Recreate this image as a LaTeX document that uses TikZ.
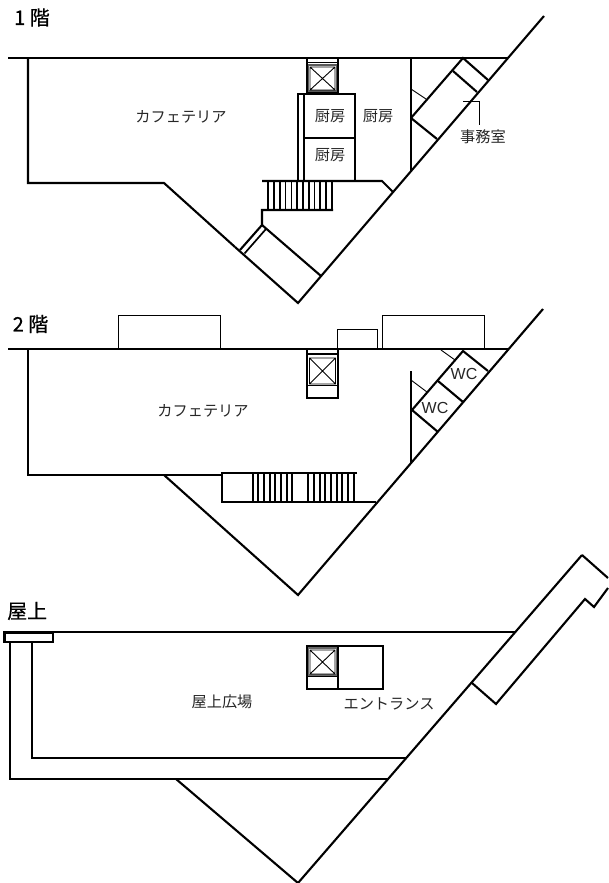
\documentclass[tikz,border=0pt]{standalone}
\usepackage{fontspec}
\setmainfont{Noto Sans CJK JP}
\newfontfamily\latinfont{Liberation Sans}
\newfontfamily\headfont[FakeBold=0.4]{Noto Sans CJK JP}
\tikzset{
  wall/.style={line width=2.1pt,line join=miter,line cap=butt},
  midw/.style={line width=1.7pt},
  thin/.style={line width=0.9pt},
  lab/.style={font=\fontsize{15.2}{16}\selectfont,inner sep=0pt,text=black!85},
  head/.style={font=\headfont\fontsize{20}{22}\selectfont,inner sep=0pt,anchor=west},
  wc/.style={font=\latinfont\fontsize{16}{16}\selectfont,inner sep=0pt,text=black!85}
}
\begin{document}
\begin{tikzpicture}[x=1pt,y=-1pt]
\useasboundingbox (0,0) rectangle (608,883);
\fill[white] (0,0) rectangle (608,883);
% ---------- 1F
\node[head] (h1) at (14,17.5) {1 階};
\draw[wall] (8,58) -- (508,58);
\draw[wall] (544,16) -- (298,303) -- (235,247);
\draw[wall] (28,58) -- (28,183) -- (164,183) -- (235,247);
\draw[wall] (240,250) -- (262,225) -- (262,210) -- (333,210);
\draw[midw] (244.5,253.5) -- (266,229);
\draw[wall] (262,225) -- (321,276);
\draw[wall] (262,181) -- (382,181) -- (393,192);
\foreach \i in {0,...,11} \draw[midw] ({268.3+5.77*\i},181) -- ({268.3+5.77*\i},210);
\draw[wall] (307,58) -- (307,93) (338,58) -- (338,93) (307,93) -- (338,93);
\draw[midw] (307,62.5) -- (338,62.5);
\draw[line width=1.5pt,black!65] (308.5,65) rectangle (336.5,91);
\draw[thin] (310,67) rectangle (335,90) (310,67) -- (335,90) (335,67) -- (310,90);
\draw[wall] (298,181) -- (298,94) -- (355,94) -- (355,181);
\draw[wall] (304,94) -- (304,181);
\draw[wall] (304,138) -- (355,138);
\draw[wall] (411,58) -- (411,171);
\draw[wall] (411,118) -- (463,58) -- (488,80);
\draw[wall] (453,71) -- (477,92);
\draw[wall] (411,118) -- (437,139);
\draw[thin] (411,89) -- (426,99);
\draw[thin] (463,101) -- (479,101) -- (479,125);
\node[lab] (l1) at (181,117) {カフェテリア};
\node[lab] (l2) at (330,116) {厨房};
\node[lab] (l3) at (378,116) {厨房};
\node[lab] (l4) at (330,155) {厨房};
\node[lab] (l5) at (483,137) {事務室};
% ---------- 2F
\node[head] (h2) at (12.5,324) {2 階};
\draw[wall] (8,349) -- (508,349);
\draw[wall] (543,309) -- (298,595) -- (164,475);
\draw[wall] (28,349) -- (28,475) -- (222,475);
\draw[thin] (118,349) -- (118,315) -- (220,315) -- (220,349);
\draw[thin] (337,349) -- (337,329) -- (377,329) -- (377,349);
\draw[thin] (382,349) -- (382,315) -- (484,315) -- (484,349);
\draw[wall] (307,349) -- (307,398) -- (338,398) -- (338,349);
\draw[midw] (307,354) -- (338,354);
\draw[midw] (307,385.5) -- (338,385.5);
\draw[thin] (309.5,358) rectangle (335.5,384) (309.5,358) -- (335.5,384) (335.5,358) -- (309.5,384);
\draw[wall] (411,371) -- (411,463);
\draw[wall] (412,410) -- (463,351) -- (488,371);
\draw[wall] (438,381) -- (463,402);
\draw[wall] (412,410) -- (438,432);
\draw[thin] (411,380) -- (427,392);
\draw[thin] (441,350) -- (455,360);
\draw[wall] (357,473) -- (222,473) -- (222,502) -- (376,502);
\foreach \x in {252.7,258.3,264,270,275.3,281,286.7,292.3,308.3,314,319.7,325.3,331,336.7,342.3,348,353.7}
  \draw[midw] (\x,473) -- (\x,502);
\node[lab] (l6) at (203,411) {カフェテリア};
\node[wc] (w1) at (464,374) {WC};
\node[wc] (w2) at (435,408) {WC};
% ---------- Roof
\node[head] (h3) at (7,611) {屋上};
\draw[wall] (53,632) -- (515,632);
\draw[wall] (4.5,632.5) rectangle (53,642);
\draw[wall] (10,642) -- (10,779) -- (388,779);
\draw[wall] (32,642) -- (32,758) -- (407,758);
\draw[wall] (582,555) -- (298,883) -- (176,779);
\draw[wall] (582,555) -- (608,578);
\draw[wall] (608,588) -- (594,607) -- (585,599) -- (496,704) -- (472,683);
\draw[wall] (307,646) rectangle (383,689);
\draw[wall] (338,646) -- (338,689);
\draw[midw] (307,676.5) -- (338,676.5);
\draw[line width=1.2pt,black!60] (308.5,648) rectangle (336.5,675);
\draw[thin] (310,650) rectangle (335,674) (310,650) -- (335,674) (335,650) -- (310,674);
\node[lab] (l7) at (222,702) {屋上広場};
\node[lab] (l8) at (389,704) {エントランス};
\end{tikzpicture}
\end{document}
